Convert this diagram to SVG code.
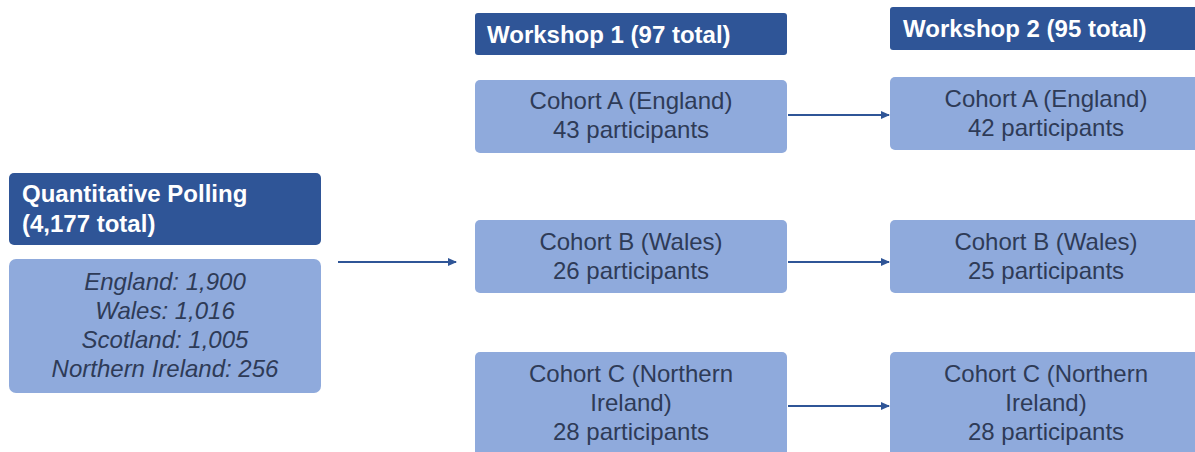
<svg xmlns="http://www.w3.org/2000/svg" width="1195" height="452" viewBox="0 0 1195 452">
<style>
.hd{fill:#2F5597;}
.bx{fill:#8FAADC;}
.ht{font-family:"Liberation Sans",Arial,sans-serif;font-weight:bold;font-size:24px;fill:#FFFFFF;}
.bt{font-family:"Liberation Sans",Arial,sans-serif;font-size:24px;fill:#2E3B57;text-anchor:middle;}
.it{font-style:italic;}
.cn{stroke:#2F5597;stroke-width:2.2;fill:none;marker-end:url(#ah);}
</style>
<defs>
<marker id="ah" markerWidth="9" markerHeight="9" refX="8" refY="4.5" orient="auto" markerUnits="userSpaceOnUse">
<path d="M0,0.5 L9,4.5 L0,8.5 Z" fill="#2F5597"/>
</marker>
</defs>
<rect width="1195" height="452" fill="#FFFFFF"/>
<g id="polling-header">
<rect class="hd" x="9" y="173" width="312" height="72" rx="5"/>
<text class="ht" x="22" y="202">Quantitative Polling</text>
<text class="ht" x="22" y="232">(4,177 total)</text>
</g>
<g id="polling">
<rect class="bx" x="9" y="259" width="312" height="134" rx="7"/>
<text class="bt it" x="165" y="290">England: 1,900</text>
<text class="bt it" x="165" y="319">Wales: 1,016</text>
<text class="bt it" x="165" y="348">Scotland: 1,005</text>
<text class="bt it" x="165" y="377">Northern Ireland: 256</text>
</g>
<g id="workshop1-header">
<rect class="hd" x="475" y="13" width="312" height="42" rx="3"/>
<text class="ht" x="487" y="43">Workshop 1 (97 total)</text>
</g>
<g id="workshop2-header">
<rect class="hd" x="890" y="7" width="312" height="43" rx="3"/>
<text class="ht" x="903" y="37">Workshop 2 (95 total)</text>
</g>
<g id="w1-cohort-a">
<rect class="bx" x="475" y="80" width="312" height="73" rx="5"/>
<text class="bt" x="631" y="109">Cohort A (England)</text>
<text class="bt" x="631" y="138">43 participants</text>
</g>
<g id="w1-cohort-b">
<rect class="bx" x="475" y="220" width="312" height="73" rx="5"/>
<text class="bt" x="631" y="250">Cohort B (Wales)</text>
<text class="bt" x="631" y="279">26 participants</text>
</g>
<g id="w1-cohort-c">
<rect class="bx" x="475" y="352" width="312" height="110" rx="5"/>
<text class="bt" x="631" y="382">Cohort C (Northern</text>
<text class="bt" x="631" y="411">Ireland)</text>
<text class="bt" x="631" y="440">28 participants</text>
</g>
<g id="w2-cohort-a">
<rect class="bx" x="890" y="77" width="312" height="73" rx="5"/>
<text class="bt" x="1046" y="107">Cohort A (England)</text>
<text class="bt" x="1046" y="136">42 participants</text>
</g>
<g id="w2-cohort-b">
<rect class="bx" x="890" y="220" width="312" height="73" rx="5"/>
<text class="bt" x="1046" y="250">Cohort B (Wales)</text>
<text class="bt" x="1046" y="279">25 participants</text>
</g>
<g id="w2-cohort-c">
<rect class="bx" x="890" y="352" width="312" height="110" rx="5"/>
<text class="bt" x="1046" y="382">Cohort C (Northern</text>
<text class="bt" x="1046" y="411">Ireland)</text>
<text class="bt" x="1046" y="440">28 participants</text>
</g>
<g id="connectors">
<line class="cn" x1="338" y1="262" x2="456" y2="262"/>
<line class="cn" x1="788" y1="115" x2="889" y2="115"/>
<line class="cn" x1="788" y1="262" x2="889" y2="262"/>
<line class="cn" x1="788" y1="406" x2="889" y2="406"/>
</g>
</svg>
